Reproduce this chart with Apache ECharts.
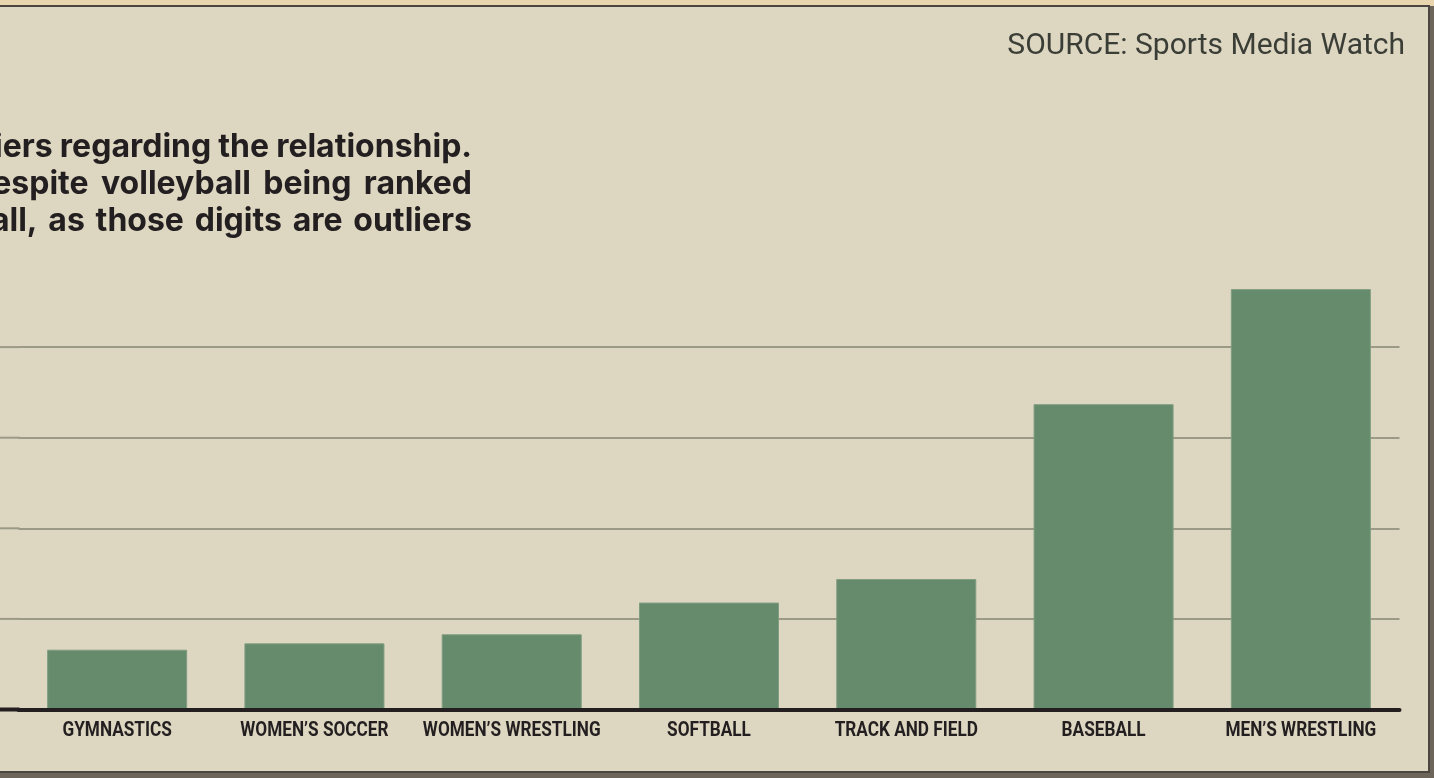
<!DOCTYPE html>
<html>
<head>
<meta charset="utf-8">
<title>Sports ranking</title>
<script src="https://cdn.jsdelivr.net/npm/echarts@6/dist/echarts.min.js"></script>
<style>
  html, body { margin: 0; padding: 0; background: #6d645a; }
  #chart { width: 1434px; height: 778px; }
</style>
</head>
<body>
<div id="chart"></div>
<script>
// Sports shown along the bottom axis
const categories = ['GYMNASTICS', 'WOMEN\u2019S SOCCER', 'WOMEN\u2019S WRESTLING', 'SOFTBALL', 'TRACK AND FIELD', 'BASEBALL', 'MEN\u2019S WRESTLING'];
// Bar heights, in gridline units
const values = [0.66, 0.73, 0.83, 1.18, 1.44, 3.37, 4.64];
// Value-axis tick positions (top one is left undrawn)
const yTicks = [0, 1, 2, 3, 4, 5];
// Note text, visible right-hand part of each justified line
const noteLines = [
  'iers regarding the relationship.',
  'espite volleyball being ranked',
  'all, as those digits are outliers'
];
const sourceText = 'SOURCE: Sports Media Watch';

const PANEL = '#ddd6c1';
const GRID_COLOR = '#9b9a87';
const BAR = '#668b6c';
const INK = '#231f20';
const LABEL_FONT = "bold 20px 'Roboto', 'DejaVu Sans Condensed', sans-serif";
const NOTE_FONT = "bold 32px 'Inter', 'Roboto', sans-serif";

const chart = echarts.init(document.getElementById('chart'), null, { renderer: 'canvas' });

chart.setOption({
  backgroundColor: 'transparent',
  animation: false,
  grid: { left: 18.5, right: 34.5, top: 256.5, bottom: 68.5, containLabel: false },
  xAxis: {
    type: 'category',
    data: categories,
    axisTick: { show: false },
    axisLine: { show: true, lineStyle: { color: INK, width: 4 } },
    axisLabel: { show: false },
    z: 5
  },
  yAxis: {
    type: 'value',
    min: yTicks[0],
    max: yTicks[yTicks.length - 1],
    interval: 1,
    axisLine: { show: false },
    axisTick: { show: false },
    axisLabel: { show: false },
    splitLine: {
      show: true,
      lineStyle: {
        width: 2,
        color: yTicks.map((t, i) => i === yTicks.length - 1 ? 'rgba(0,0,0,0)' : GRID_COLOR)
      }
    }
  },
  series: [{
    type: 'bar',
    data: values,
    barWidth: 140,
    itemStyle: { color: BAR, borderColor: '#7f9d80', borderWidth: 1 },
    z: 3
  }]
});

// Paper panel, frame, condensed axis labels and the text blocks
const g = [];
g.push({ type: 'rect', z: -10, silent: true, shape: { x: 0, y: 0, width: 1434, height: 6 }, style: { fill: '#e9d6ae' } });
g.push({ type: 'rect', z: -9, silent: true, shape: { x: -10, y: 6, width: 1439, height: 766 }, style: { fill: PANEL, stroke: '#4b463f', lineWidth: 2 } });

// grid lines and baseline carry on to the left edge of the panel
const bandLeft = chart.convertToPixel({ xAxisIndex: 0 }, 0) - 98.65;
yTicks.slice(0, -1).forEach((t) => {
  const y = chart.convertToPixel({ yAxisIndex: 0 }, t);
  g.push({
    type: 'line', z: t === 0 ? 6 : -1, silent: true,
    shape: { x1: 0, y1: y, x2: bandLeft + 1, y2: y },
    style: { stroke: t === 0 ? INK : GRID_COLOR, lineWidth: t === 0 ? 4 : 2 }
  });
});

// category names in a narrowed bold face
const y0 = chart.convertToPixel({ yAxisIndex: 0 }, 0);
categories.forEach((name) => {
  g.push({
    type: 'text', z: 10, silent: true,
    x: chart.convertToPixel({ xAxisIndex: 0 }, name), y: y0 + 21,
    scaleX: 0.86,
    style: { text: name, x: 0, y: 0, align: 'center', verticalAlign: 'middle', fill: INK, font: LABEL_FONT }
  });
});

// justified note: words laid out right to left from the column edge
const measure = document.createElement('canvas').getContext('2d');
measure.font = NOTE_FONT;
const spaceW = measure.measureText(' ').width;
const noteRight = 472;
const noteCenters = [147, 184, 221];
const gapAdjust = [-0.5, 4.9, 3.2];
noteLines.forEach((line, i) => {
  const words = line.split(' ');
  let x = noteRight;
  for (let k = words.length - 1; k >= 0; k--) {
    g.push({
      type: 'text', z: 10, silent: true,
      style: { text: words[k], x: x, y: noteCenters[i], align: 'right', verticalAlign: 'middle', fill: INK, font: NOTE_FONT }
    });
    x -= measure.measureText(words[k]).width + spaceW + gapAdjust[i];
  }
});

g.push({
  type: 'text', z: 10, silent: true,
  style: { text: sourceText, x: 1405, y: 46.5, align: 'right', verticalAlign: 'middle', fill: '#3a3e36', font: "30px 'Roboto', sans-serif" }
});

chart.setOption({ graphic: g });
</script>
</body>
</html>
